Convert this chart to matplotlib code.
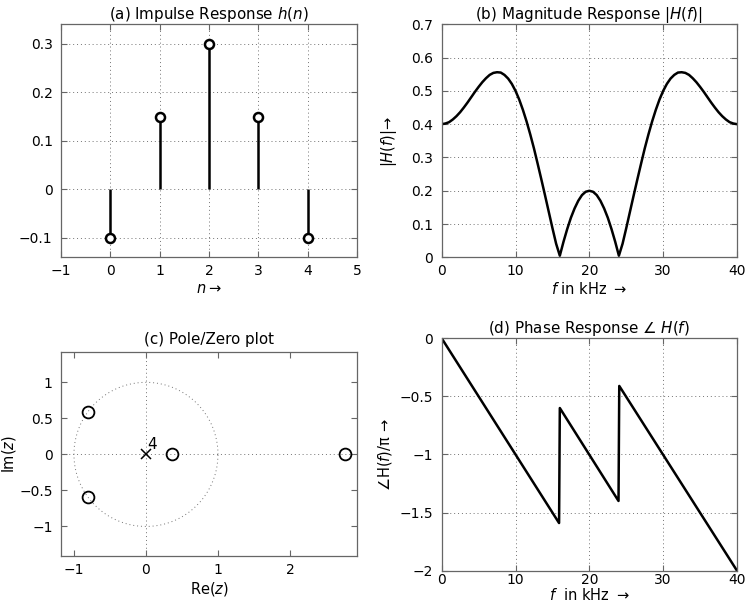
import matplotlib
matplotlib.use("Agg")
import matplotlib.pyplot as plt
import numpy as np

plt.rcParams["font.family"] = ["DejaVu Sans"]
plt.rcParams["mathtext.fontset"] = "dejavusans"
plt.rcParams["font.size"] = 10.5
plt.rcParams["axes.titlesize"] = 10.9

# (a) impulse response
n = [0, 1, 2, 3, 4]
h = [-0.1, 0.15, 0.3, 0.15, -0.1]

# (b) magnitude response at 0.5 kHz steps
f_mag = [i * 0.5 for i in range(81)]
mag = [0.400, 0.402, 0.406, 0.414, 0.424, 0.436, 0.450, 0.465, 0.481, 0.497,
       0.512, 0.526, 0.538, 0.548, 0.554, 0.556, 0.555, 0.548, 0.537, 0.521,
       0.500, 0.474, 0.443, 0.408, 0.369, 0.327, 0.281, 0.234, 0.186, 0.137,
       0.088, 0.041, 0.005, 0.047, 0.085, 0.119, 0.147, 0.170, 0.187, 0.197,
       0.200,
       0.197, 0.187, 0.170, 0.147, 0.119, 0.085, 0.047, 0.005, 0.041, 0.088,
       0.137, 0.186, 0.234, 0.281, 0.327, 0.369, 0.408, 0.443, 0.474, 0.500,
       0.521, 0.537, 0.548, 0.555, 0.556, 0.554, 0.548, 0.538, 0.526, 0.512,
       0.497, 0.481, 0.465, 0.450, 0.436, 0.424, 0.414, 0.406, 0.402, 0.400]

# (c) pole/zero locations
zeros_re = [-0.80, -0.80, 0.36, 2.76]
zeros_im = [0.59, -0.59, 0.0, 0.0]
poles_re = [0.0]
poles_im = [0.0]
pole_count = "4"

# (d) phase response (in units of pi)
f_ph = [0, 15.9, 16.0, 23.95, 24.05, 40]
phase = [0, -1.59, -0.60, -1.40, -0.41, -2.0]

grid_kw = dict(color="0.45", linestyle=(0, (1, 3)), linewidth=0.7)


def style(ax, xpad=5):
    for s in ax.spines.values():
        s.set_color("0.4")
        s.set_linewidth(0.9)
    ax.tick_params(direction="in", top=True, right=True, length=4,
                   width=0.8, color="0.4", labelsize=10)
    ax.tick_params(axis="y", pad=6)
    ax.tick_params(axis="x", pad=xpad)


fig = plt.figure(figsize=(7.49, 6.07), dpi=100)

# (a)
ax1 = fig.add_axes([0.0814, 0.576, 0.3952, 0.384])
ax1.vlines(n, 0, h, color="k", linewidth=1.8)
ax1.plot(n, h, "o", mfc="white", mec="k", ms=6.5, mew=1.8)
ax1.set_xlim(-1, 5)
ax1.set_ylim(-0.14, 0.34)
ax1.set_xticks([-1, 0, 1, 2, 3, 4, 5])
ax1.set_yticks([-0.1, 0, 0.1, 0.2, 0.3])
ax1.set_yticklabels(["\u22120.1", "0", "0.1", "0.2", "0.3"])
ax1.set_xticklabels(["\u22121", "0", "1", "2", "3", "4", "5"])
ax1.grid(True, **grid_kw)
ax1.set_axisbelow(True)
ax1.set_title(r"(a) Impulse Response $h(n)$", pad=4)
ax1.set_xlabel(r"$n\rightarrow$", labelpad=2)
style(ax1)

# (b)
ax2 = fig.add_axes([0.5897, 0.576, 0.3943, 0.384])
ax2.plot(f_mag, mag, color="k", linewidth=1.8)
ax2.set_xlim(0, 40)
ax2.set_ylim(0, 0.7)
ax2.set_xticks([0, 10, 20, 30, 40])
ax2.set_yticks([0, 0.1, 0.2, 0.3, 0.4, 0.5, 0.6, 0.7])
ax2.set_yticklabels(["0", "0.1", "0.2", "0.3", "0.4", "0.5", "0.6", "0.7"])
ax2.grid(True, **grid_kw)
ax2.set_axisbelow(True)
ax2.set_title(r"(b) Magnitude Response $|H(f)|$", pad=4)
ax2.set_xlabel(r"$f$ in kHz $\rightarrow$", labelpad=2)
ax2.set_ylabel(r"$|H(f)|\!\rightarrow$", labelpad=9)
style(ax2)

# (c)
ax3 = fig.add_axes([0.0814, 0.084, 0.3952, 0.336])
t = np.linspace(0, 2 * np.pi, 200)
ax3.plot(np.cos(t), np.sin(t), **grid_kw)
ax3.axhline(0, **grid_kw)
ax3.axvline(0, **grid_kw)
ax3.plot(zeros_re, zeros_im, "o", mfc="none", mec="k", ms=8.5, mew=1.3)
ax3.plot(poles_re, poles_im, "x", color="k", ms=7, mew=1.1)
ax3.text(poles_re[0] + 0.02, poles_im[0] + 0.03, pole_count, fontsize=11,
         ha="left", va="bottom")
ax3.set_xlim(-1.18, 2.93)
ax3.set_ylim(-1.41, 1.42)
ax3.set_xticks([-1, 0, 1, 2])
ax3.set_xticklabels(["\u22121", "0", "1", "2"])
ax3.set_yticks([-1, -0.5, 0, 0.5, 1])
ax3.set_yticklabels(["\u22121", "\u22120.5", "0", "0.5", "1"])
ax3.set_title("(c) Pole/Zero plot", pad=6)
ax3.set_xlabel(r"Re$(z)$", labelpad=2)
ax3.set_ylabel(r"Im$(z)$", labelpad=1)
style(ax3)

# (d)
ax4 = fig.add_axes([0.5897, 0.0598, 0.3943, 0.3829])
ax4.plot(f_ph, phase, color="k", linewidth=1.8)
ax4.set_xlim(0, 40)
ax4.set_ylim(-2, 0)
ax4.set_xticks([0, 10, 20, 30, 40])
ax4.set_yticks([-2, -1.5, -1, -0.5, 0])
ax4.set_yticklabels(["\u22122", "\u22121.5", "\u22121", "\u22120.5", "0"])
ax4.grid(True, **grid_kw)
ax4.set_axisbelow(True)
ax4.set_title("(d) Phase Response \u2220 $H(f)$", pad=4)
ax4.set_xlabel(r"$f$  in kHz $\rightarrow$", labelpad=0)
ax4.set_ylabel("\u2220H($f$)/\u03c0 \u2192", labelpad=4)
style(ax4, xpad=2)

fig.savefig("out.png", dpi=100)
